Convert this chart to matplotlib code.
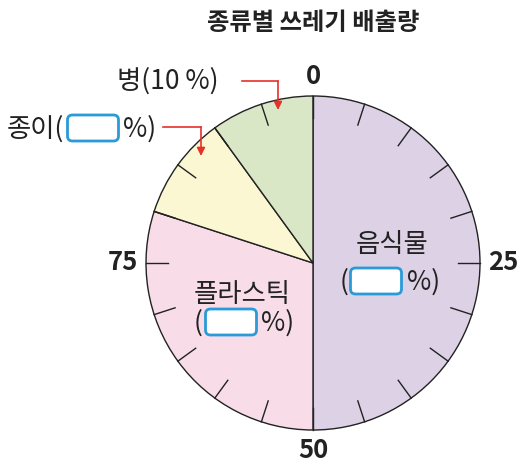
import numpy as np
import matplotlib
matplotlib.use('Agg')
import matplotlib.pyplot as plt
from matplotlib.patches import FancyBboxPatch

plt.rcParams['font.family'] = ['Noto Sans CJK KR', 'DejaVu Sans']

# 데이터 (0에서 시계 방향)
categories = ['음식물', '플라스틱', '종이', '병']
values = [50, 30, 10, 10]
colors = ['#ddd1e6', '#f8dde9', '#faf7d2', '#dae7c6']
scale_labels = ['0', '25', '50', '75']
scale_values = [0, 25, 50, 75]
minor_step = 5

fig = plt.figure(figsize=(5.19, 4.66), dpi=100)
ax = fig.add_axes([0, 0, 1, 1])

cx, cy, R = 313, 203, 167
ax.pie(values, colors=colors, startangle=90, counterclock=False,
       center=(cx, cy), radius=R,
       wedgeprops=dict(edgecolor='#222222', linewidth=1.0))
ax.set_xlim(0, 519)
ax.set_ylim(0, 466)
ax.set_aspect('equal')
ax.axis('off')

# 눈금 (5 % 간격)
for p in range(0, 100, minor_step):
    a = np.deg2rad(90 - 3.6 * p)
    ax.plot([cx + (R - 22) * np.cos(a), cx + R * np.cos(a)],
            [cy + (R - 22) * np.sin(a), cy + R * np.sin(a)],
            color='#222222', lw=1.0)

# 눈금 숫자
for lab, v in zip(scale_labels, scale_values):
    a = np.deg2rad(90 - 3.6 * v)
    ax.text(cx + (R + 23) * np.cos(a), cy + (R + 20) * np.sin(a), lab,
            ha='center', va='center', fontsize=18.5, fontweight='bold',
            color='#222222')

ax.text(313, 443, '종류별 쓰레기 배출량', ha='center', va='center',
        fontsize=17.5, fontweight='bold', color='#222222')

def blank(x, y, w=51, h=26):
    ax.add_patch(FancyBboxPatch((x - w / 2, y - h / 2), w, h,
                                boxstyle='round,pad=0,rounding_size=5',
                                fc='white', ec='#2a9ad8', lw=2.0, zorder=5))

txt = dict(fontsize=19, color='#222222', va='center', fontweight='medium')

# 음식물
ax.text(392, 221, categories[0], ha='center', **txt)
ax.text(344, 184, '(', ha='center', **txt)
blank(376, 185)
ax.text(407, 184, '%)', ha='left', **txt)

# 플라스틱
ax.text(242, 172, categories[1], ha='center', **txt)
ax.text(198, 143, '(', ha='center', **txt)
blank(231, 144)
ax.text(261, 143, '%)', ha='left', **txt)

# 종이
ax.text(64, 337, categories[2] + '(', ha='right', **txt)
blank(93, 338)
ax.text(123, 337, '%)', ha='left', **txt)

# 병
ax.text(168, 385, '%s(%d %%)' % (categories[3], values[3]), ha='center', **txt)

# 빨간 화살표
red = '#e8302a'
for (x0, x1, y0, y1) in [(242, 278, 385, 356), (163, 201, 339, 310)]:
    ax.plot([x0, x1], [y0, y0], color=red, lw=1.2)
    ax.annotate('', xy=(x1, y1), xytext=(x1, y0),
                arrowprops=dict(arrowstyle='-|>', color=red, lw=1.2,
                                mutation_scale=12, shrinkA=0, shrinkB=0))

fig.savefig('out.png', dpi=100)
